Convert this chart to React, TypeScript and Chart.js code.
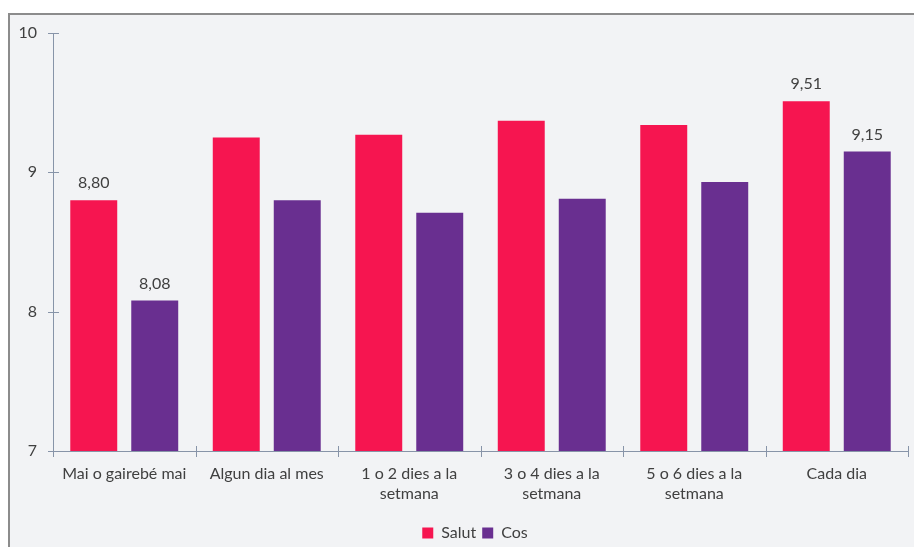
import React, { useEffect, useRef } from "react";
import { Chart, registerables } from "chart.js";

Chart.register(...registerables);

const categories: (string | string[])[] = [
  "Mai o gairebé mai",
  "Algun dia al mes",
  ["1 o 2 dies a la", "setmana"],
  ["3 o 4 dies a la", "setmana"],
  ["5 o 6 dies a la", "setmana"],
  "Cada dia",
];
const salutValues = [8.8, 9.25, 9.27, 9.37, 9.34, 9.51];
const cosValues = [8.08, 8.8, 8.71, 8.81, 8.93, 9.15];
const labeledIndices = [0, 5];
const yTicks = [7, 8, 9, 10];

const TEXT = "#404040";
const AXIS = "#8794a8";
const FONT = "Lato";
const FS = 16;

const tickPlugin = {
  id: "crossTicks",
  afterLayout(chart: any) {
    if (chart.legend) {
      chart.legend.left += 21;
      chart.legend.right += 21;
    }
  },
  afterDraw(chart: any) {
    const ctx = chart.ctx;
    const y = chart.scales.y;
    const area = chart.chartArea;
    ctx.save();
    ctx.strokeStyle = AXIS;
    ctx.lineWidth = 1;
    ctx.beginPath();
    yTicks.forEach((v) => {
      const py = Math.round(y.getPixelForValue(v)) + 0.5;
      ctx.moveTo(area.left - 5, py);
      ctx.lineTo(area.left + 6, py);
    });
    const n = categories.length;
    for (let i = 0; i <= n; i++) {
      const px = Math.round(area.left + ((area.right - area.left) * i) / n) + 0.5;
      ctx.moveTo(px, area.bottom - 5);
      ctx.lineTo(px, area.bottom + 6);
    }
    ctx.stroke();
    ctx.fillStyle = TEXT;
    ctx.font = `${FS}px ${FONT}`;
    ctx.textAlign = "center";
    ctx.textBaseline = "middle";
    chart.data.datasets.forEach((ds: any, di: number) => {
      const meta = chart.getDatasetMeta(di);
      labeledIndices.forEach((i) => {
        const el = meta.data[i];
        const txt = ds.data[i].toFixed(2).replace(".", ",");
        ctx.fillText(txt, el.x, el.y - 17);
      });
    });
    ctx.restore();
  },
};

export default function App() {
  const ref = useRef<HTMLCanvasElement>(null);
  useEffect(() => {
    const chart = new Chart(ref.current!, {
      type: "bar",
      data: {
        labels: categories,
        datasets: [
          {
            label: "Salut",
            data: salutValues,
            backgroundColor: "#f61550",
            categoryPercentage: 0.856,
            barPercentage: 0.77,
          },
          {
            label: "Cos",
            data: cosValues,
            backgroundColor: "#692f90",
            categoryPercentage: 0.856,
            barPercentage: 0.77,
          },
        ],
      },
      options: {
        responsive: false,
        animation: false,
        devicePixelRatio: 1,
        layout: { padding: { top: 33, left: 0, right: 6, bottom: -4 } },
        plugins: {
          legend: {
            position: "bottom",
            labels: {
              boxWidth: 11,
              boxHeight: 11,
              color: TEXT,
              font: { family: FONT, size: FS },
              padding: 6,
            },
          },
          tooltip: { enabled: false },
        },
        scales: {
          x: {
            grid: { display: false },
            border: { display: true, color: AXIS },
            ticks: {
              color: TEXT,
              font: { family: FONT, size: FS, lineHeight: 1.25 },
              padding: 5,
              maxRotation: 0,
              autoSkip: false,
            },
            afterFit(scale: any) {
              scale.height = 68;
            },
          },
          y: {
            min: 7,
            max: 10,
            grid: { display: false },
            border: { display: true, color: AXIS },
            ticks: {
              stepSize: 1,
              color: TEXT,
              font: { family: FONT, size: FS },
              padding: 8,
            },
            afterFit(scale: any) {
              scale.width = 53;
            },
          },
        },
      },
      plugins: [tickPlugin],
    });
    return () => chart.destroy();
  }, []);
  return (
    <div style={{ position: "fixed", left: 0, top: 0, width: 914, height: 547, overflow: "hidden", background: "#fff" }}>
      <div
        style={{
          position: "absolute",
          left: 8,
          top: 13,
          width: 920,
          height: 560,
          border: "2px solid #8c8c8c",
          background: "#f2f3f5",
        }}
      />
      <canvas ref={ref} width={914} height={547} style={{ position: "absolute", left: 0, top: 0 }} />
    </div>
  );
}
